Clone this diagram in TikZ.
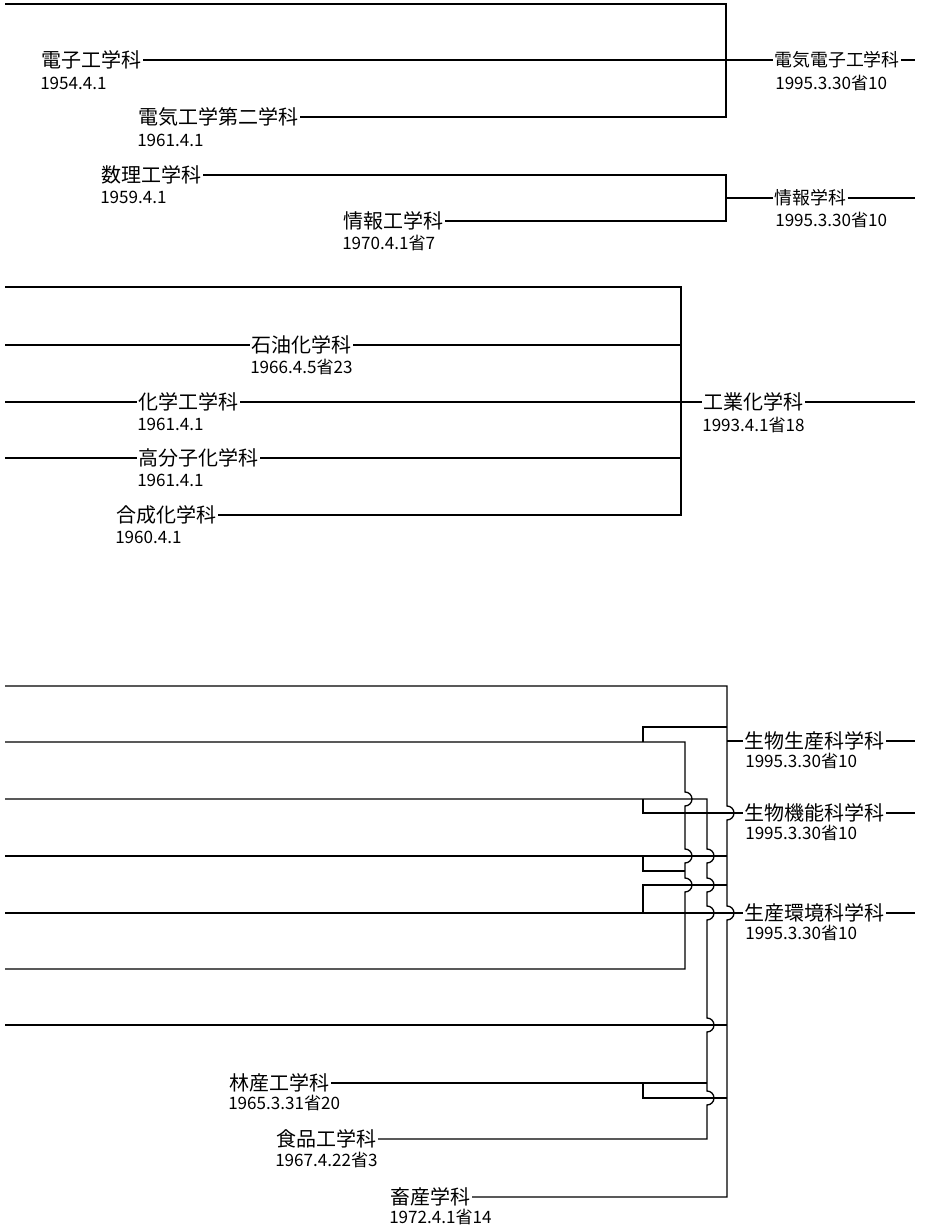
\documentclass[tikz,border=0pt]{standalone}
\usepackage{fontspec}
\setmainfont{Noto Sans CJK JP}
\begin{document}
\begin{tikzpicture}[x=0.75pt,y=-0.75pt,
  lab/.style={anchor=west, inner xsep=1pt, inner ysep=0pt, font=\fontsize{15}{15}\selectfont},
  rlab/.style={lab, font=\fontsize{13.4}{13.4}\selectfont},
  dt/.style={anchor=west, inner sep=0pt, font=\fontsize{12.8}{12.8}\selectfont},
  ln/.style={line width=1pt, line join=miter}]
\useasboundingbox (0,0) rectangle (925,1226);
\def\br{5.25pt}

% ---------------- top section ----------------
\node[lab] (ee) at (40,60) {電子工学科};
\node[dt] (eed) at (40,83) {1954.4.1};
\node[lab] (ee2) at (137,117) {電気工学第二学科};
\node[dt] (ee2d) at (137,140) {1961.4.1};
\node[rlab] (eee) at (773,60) {電気電子工学科};
\node[dt] (eeed) at (775,83) {1995.3.30省10};
\coordinate (t0) at (5,4);
\coordinate (t0r) at (726,4);
\coordinate (t2r) at (726,117);
\coordinate (eeeend) at (915,60);
\draw[ln] (t0) -- (t0r) -- (t2r) -- (ee2.east);
\draw[ln] (ee.east) -- (eee.west);
\draw[ln] (eee.east) -- (eeeend);

\node[lab] (sr) at (100,175) {数理工学科};
\node[dt] (srd) at (100,197) {1959.4.1};
\node[lab] (jk) at (342,221) {情報工学科};
\node[dt] (jkd) at (342,243) {1970.4.1省7};
\node[rlab] (jh) at (773,198) {情報学科};
\node[dt] (jhd) at (775,220) {1995.3.30省10};
\coordinate (srr) at (726,175);
\coordinate (jkr) at (726,221);
\coordinate (jhl) at (726,198);
\coordinate (jhend) at (915,198);
\draw[ln] (sr.east) -- (srr) -- (jkr) -- (jk.east);
\draw[ln] (jhl) -- (jh.west);
\draw[ln] (jh.east) -- (jhend);

% ---------------- middle section ----------------
\node[lab] (sy) at (250,345) {石油化学科};
\node[dt] (syd) at (250,367) {1966.4.5省23};
\node[lab] (kk) at (137,402) {化学工学科};
\node[dt] (kkd) at (137,424) {1961.4.1};
\node[lab] (kb) at (137,458) {高分子化学科};
\node[dt] (kbd) at (137,480) {1961.4.1};
\node[lab] (gs) at (115,515) {合成化学科};
\node[dt] (gsd) at (115,537) {1960.4.1};
\node[lab] (kg) at (702,402) {工業化学科};
\node[dt] (kgd) at (702,425) {1993.4.1省18};
\coordinate (m1l) at (5,287);
\coordinate (m1r) at (681,287);
\coordinate (m5r) at (681,515);
\coordinate (m2l) at (5,345);
\coordinate (m2r) at (681,345);
\coordinate (m3l) at (5,402);
\coordinate (m4l) at (5,458);
\coordinate (m4r) at (681,458);
\coordinate (kgend) at (915,402);
\draw[ln] (m1l) -- (m1r) -- (m5r) -- (gs.east);
\draw[ln] (m2l) -- (sy.west);
\draw[ln] (sy.east) -- (m2r);
\draw[ln] (m3l) -- (kk.west);
\draw[ln] (kk.east) -- (kg.west);
\draw[ln] (kg.east) -- (kgend);
\draw[ln] (m4l) -- (kb.west);
\draw[ln] (kb.east) -- (m4r);

% ---------------- bottom section ----------------
\node[lab] (sp) at (743,741) {生物生産科学科};
\node[dt] (spd) at (745,761) {1995.3.30省10};
\node[lab] (sk) at (743,813) {生物機能科学科};
\node[dt] (skd) at (745,833) {1995.3.30省10};
\node[lab] (sa) at (743,913) {生産環境科学科};
\node[dt] (sad) at (745,933) {1995.3.30省10};
\node[lab] (rs) at (228,1083) {林産工学科};
\node[dt] (rsd) at (228,1103) {1965.3.31省20};
\node[lab] (sh) at (275,1139) {食品工学科};
\node[dt] (shd) at (275,1160) {1967.4.22省3};
\node[lab] (ck) at (389,1197) {畜産学科};
\node[dt] (ckd) at (389,1217) {1972.4.1省14};

% right-end stubs
\draw[ln] (sp.east) -- (915,741);
\draw[ln] (sk.east) -- (915,813);
\draw[ln] (sa.east) -- (915,913);

% trunk D (x=727)
\coordinate (d0) at (727,686);
\coordinate (d1) at (727,1197);
\draw[ln] (5,686) -- (d0) -- (727,806) arc[start angle=90,end angle=-90,radius=\br]
  -- (727,906) arc[start angle=90,end angle=-90,radius=\br] -- (d1) -- (ck.east);
\draw[ln] (727,741) -- (sp.west);

% vertical B (x=685)
\draw[ln] (5,742) -- (685,742) -- (685,792) arc[start angle=90,end angle=-90,radius=\br]
  -- (685,849) arc[start angle=90,end angle=-90,radius=\br]
  -- (685,878) arc[start angle=90,end angle=-90,radius=\br]
  -- (685,969) -- (5,969);

% vertical C (x=707)
\draw[ln] (5,799) -- (707,799) -- (707,849) arc[start angle=90,end angle=-90,radius=\br]
  -- (707,878) arc[start angle=90,end angle=-90,radius=\br]
  -- (707,906) arc[start angle=90,end angle=-90,radius=\br]
  -- (707,1018) arc[start angle=90,end angle=-90,radius=\br]
  -- (707,1091) arc[start angle=90,end angle=-90,radius=\br]
  -- (707,1139) -- (sh.east);

% branches
\draw[ln] (643,742) -- (643,727) -- (727,727);
\draw[ln] (643,799) -- (643,813) -- (sk.west);
\draw[ln] (5,856) -- (727,856);
\draw[ln] (643,856) -- (643,871) -- (685,871);
\draw[ln] (5,913) -- (sa.west);
\draw[ln] (643,913) -- (643,885) -- (727,885);
\draw[ln] (5,1025) -- (727,1025);
\draw[ln] (rs.east) -- (707,1083);
\draw[ln] (643,1083) -- (643,1098) -- (727,1098);
\end{tikzpicture}
\end{document}
